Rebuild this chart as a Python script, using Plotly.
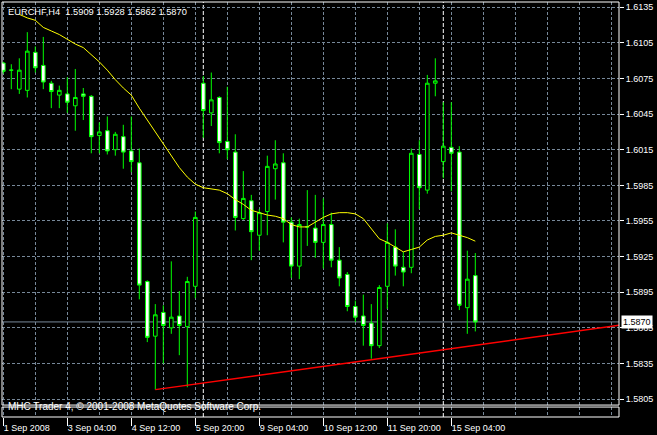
import plotly.graph_objects as go

# ---------------- data ----------------
symbol = "EURCHF,H4"
bars = list(range(60))
opens = [1.6088, 1.6082, 1.6066, 1.6065, 1.6097, 1.6086, 1.6071, 1.6061, 1.6062, 1.6052,
         1.6062, 1.6060, 1.6027, 1.6031, 1.6015, 1.6026, 1.6014, 1.6004, 1.5904, 1.5858,
         1.5878, 1.5865, 1.5875, 1.5866, 1.5900, 1.6071, 1.6046, 1.6059, 1.6022, 1.6013,
         1.5957, 1.5972, 1.5943, 1.5963, 1.5999, 1.6004, 1.5954, 1.5917, 1.5950, 1.5949,
         1.5937, 1.5952, 1.5922, 1.5910, 1.5883, 1.5875, 1.5869, 1.5850, 1.5900, 1.5933,
         1.5916, 1.5916, 1.6011, 1.5981, 1.6071, 1.6005, 1.6017, 1.6013, 1.5882, 1.5909]
highs = [1.6089, 1.6087, 1.6092, 1.6114, 1.6102, 1.6110, 1.6073, 1.6069, 1.6076, 1.6083,
         1.6067, 1.6061, 1.6038, 1.6043, 1.6030, 1.6036, 1.6043, 1.6016, 1.5905, 1.5885,
         1.5884, 1.5921, 1.5896, 1.5908, 1.5963, 1.6077, 1.6080, 1.6060, 1.6068, 1.6028,
         1.5997, 1.5977, 1.5965, 1.6010, 1.6023, 1.6012, 1.5958, 1.5957, 1.5981, 1.5977,
         1.5974, 1.5962, 1.5933, 1.5912, 1.5888, 1.5893, 1.5885, 1.5901, 1.5953, 1.5948,
         1.5929, 1.6016, 1.6023, 1.6078, 1.6092, 1.6055, 1.6055, 1.6018, 1.5930, 1.5928]
lows = [1.6079, 1.6066, 1.6062, 1.6059, 1.6080, 1.6066, 1.6050, 1.6050, 1.6046, 1.6031,
        1.6040, 1.6012, 1.6012, 1.6011, 1.6010, 1.5999, 1.5996, 1.5889, 1.5853, 1.5813,
        1.5835, 1.5860, 1.5842, 1.5815, 1.5890, 1.6025, 1.6035, 1.6012, 1.6007, 1.5947,
        1.5956, 1.5922, 1.5930, 1.5943, 1.5973, 1.5937, 1.5907, 1.5906, 1.5934, 1.5924,
        1.5915, 1.5916, 1.5900, 1.5879, 1.5870, 1.5850, 1.5839, 1.5848, 1.5881, 1.5909,
        1.5900, 1.5911, 1.5965, 1.5978, 1.6060, 1.5991, 1.5980, 1.5880, 1.5860, 1.5862]
closes = [1.6081, 1.6082, 1.6082, 1.6098, 1.6084, 1.6072, 1.6064, 1.6065, 1.6055, 1.6059,
          1.6060, 1.6026, 1.6030, 1.6014, 1.6028, 1.6013, 1.6005, 1.5901, 1.5857, 1.5876,
          1.5867, 1.5874, 1.5867, 1.5904, 1.5958, 1.6048, 1.6057, 1.6021, 1.6015, 1.5958,
          1.5974, 1.5946, 1.5962, 1.6001, 1.6003, 1.5954, 1.5917, 1.5952, 1.5950, 1.5937,
          1.5952, 1.5922, 1.5907, 1.5883, 1.5874, 1.5867, 1.5850, 1.5899, 1.5937, 1.5917,
          1.5912, 1.6012, 1.5983, 1.6071, 1.6073, 1.6018, 1.6012, 1.5884, 1.5906, 1.5870]
moving_avg = [None, None, 1.6129, 1.6126, 1.6124, 1.6118, 1.6115, 1.6112, 1.6108, 1.6104,
              1.6101, 1.6095, 1.6089, 1.6082, 1.6074, 1.6067, 1.6061, 1.6050, 1.6040, 1.6031,
              1.6021, 1.6011, 1.6000, 1.5992, 1.5986, 1.5983, 1.5982, 1.5981, 1.5978, 1.5973,
              1.5969, 1.5964, 1.5962, 1.5960, 1.5959, 1.5957, 1.5952, 1.5950, 1.5950, 1.5954,
              1.5958, 1.5961, 1.5962, 1.5962, 1.5961, 1.5957, 1.5948, 1.5940, 1.5937, 1.5933,
              1.5929, 1.5931, 1.5933, 1.5939, 1.5942, 1.5943, 1.5945, 1.5943, 1.5941, 1.5938]
trend_x = [19, 80]
trend_y = [1.5813, 1.5870]
bid_price = 1.5870
period_separators = [25, 55]
x_tick_pos = [0, 8, 16, 24, 32, 40, 48, 56]
x_tick_labels = ["1 Sep 2008", "3 Sep 04:00", "4 Sep 12:00", "5 Sep 20:00",
                 "9 Sep 04:00", "10 Sep 12:00", "11 Sep 20:00", "15 Sep 04:00"]
x_grid = list(range(0, 80, 4))
y_ticks = [1.5805, 1.5835, 1.5865, 1.5895, 1.5925, 1.5955, 1.5985,
           1.6015, 1.6045, 1.6075, 1.6105, 1.6135]
copyright_text = "MHC Trader 4, \u00a9 2001-2008 MetaQuotes Software Corp."

# ---------------- style ----------------
GRID = "#778899"
LIME = "#00ff00"
FONT = "Liberation Sans, Arial, sans-serif"
W, H = 657, 435
ML, MR, MT, MB = 2, 38, 2, 16
plot_h = H - MT - MB
main_bottom = 12 / plot_h
sub_top = 10 / plot_h
x_range = [-0.1625, 76.9625]

fig = go.Figure()
fig.add_trace(go.Candlestick(
    x=bars, open=opens, high=highs, low=lows, close=closes,
    increasing=dict(line=dict(color=LIME, width=1), fillcolor="#000000"),
    decreasing=dict(line=dict(color=LIME, width=1), fillcolor="#ffffff"),
    whiskerwidth=0, showlegend=False, hoverinfo="skip",
    xaxis="x", yaxis="y"))
fig.add_trace(go.Scatter(x=bars, y=moving_avg, mode="lines",
                         line=dict(color="#ffff00", width=1),
                         showlegend=False, hoverinfo="skip", xaxis="x", yaxis="y"))
fig.add_trace(go.Scatter(x=trend_x, y=trend_y, mode="lines",
                         line=dict(color="#ff0000", width=1.5),
                         showlegend=False, hoverinfo="skip", xaxis="x", yaxis="y"))
fig.add_trace(go.Scatter(x=[None], y=[None], mode="lines", xaxis="x", yaxis="y2",
                         showlegend=False, hoverinfo="skip"))

shapes = []
for s in period_separators:
    shapes.append(dict(type="line", xref="x", yref="paper", x0=s, x1=s, y0=0, y1=1,
                       line=dict(color="#ffffff", width=1, dash="4px,2px"), layer="below"))
shapes.append(dict(type="line", xref="x", yref="y", x0=x_range[0] - 2, x1=x_range[1] + 2,
                   y0=bid_price, y1=bid_price, line=dict(color=GRID, width=1), layer="below"))
shapes.append(dict(type="rect", xref="paper", yref="paper", x0=0, x1=1, y0=main_bottom, y1=1,
                   line=dict(color="#ffffff", width=1), layer="above"))
shapes.append(dict(type="rect", xref="paper", yref="paper", x0=0, x1=1, y0=0, y1=sub_top,
                   line=dict(color="#ffffff", width=1), layer="above"))

title_text = f"{symbol}\u00a0\u00a0{opens[-1]:.4f} {highs[-1]:.4f} {lows[-1]:.4f} {closes[-1]:.4f}"
annotations = [
    dict(xref="paper", yref="paper", x=0, y=1, xanchor="left", yanchor="top",
         xshift=4, yshift=-3, text=title_text, showarrow=False,
         font=dict(family=FONT, size=9.3, color="#ffffff")),
    dict(xref="paper", yref="paper", x=0, y=main_bottom, xanchor="left", yanchor="middle",
         xshift=4, yshift=-1, text=copyright_text, showarrow=False,
         font=dict(family=FONT, size=10, color="#ffffff")),
    dict(xref="paper", yref="y", x=1, y=bid_price, xanchor="left", yanchor="middle",
         xshift=2, text=f"{bid_price:.4f}", showarrow=False, bgcolor="#ffffff",
         borderpad=1, font=dict(family=FONT, size=9, color="#000000")),
]

fig.update_layout(
    width=W, height=H,
    margin=dict(l=ML, r=MR, t=MT, b=MB, pad=0),
    paper_bgcolor="#000000", plot_bgcolor="#000000",
    showlegend=False, boxgap=0.35,
    font=dict(family=FONT, size=9, color="#ffffff"),
    shapes=shapes, annotations=annotations,
    xaxis=dict(
        range=x_range, anchor="y2", rangeslider=dict(visible=False),
        tickmode="array", tickvals=x_tick_pos, ticktext=x_tick_labels,
        ticks="outside", ticklen=8, tickwidth=1, tickcolor="#ffffff",
        ticklabelposition="outside right", ticklabelstandoff=2,
        tickfont=dict(family=FONT, size=9, color="#ffffff"),
        showgrid=True, gridcolor=GRID, gridwidth=1, griddash="3px,2px",
        minor=dict(tickmode="array", tickvals=x_grid, ticks="", showgrid=True,
                   gridcolor=GRID, gridwidth=1, griddash="3px,2px"),
        zeroline=False, showline=False, fixedrange=True),
    yaxis=dict(
        domain=[main_bottom, 1], range=[1.5800, 1.61394], side="right", anchor="x",
        tickmode="array", tickvals=y_ticks, tickformat=".4f",
        ticks="outside", ticklen=4, tickwidth=1, tickcolor="#ffffff",
        tickfont=dict(family=FONT, size=9, color="#ffffff"),
        showgrid=True, gridcolor=GRID, gridwidth=1, griddash="3px,2px",
        zeroline=False, showline=False, fixedrange=True),
    yaxis2=dict(
        domain=[0, sub_top], range=[0, 1], anchor="x",
        showgrid=False, showticklabels=False, ticks="", zeroline=False,
        showline=False, fixedrange=True),
)

fig.write_html("out.html", config={"displayModeBar": False},
               post_script="document.body.style.margin='0';")
